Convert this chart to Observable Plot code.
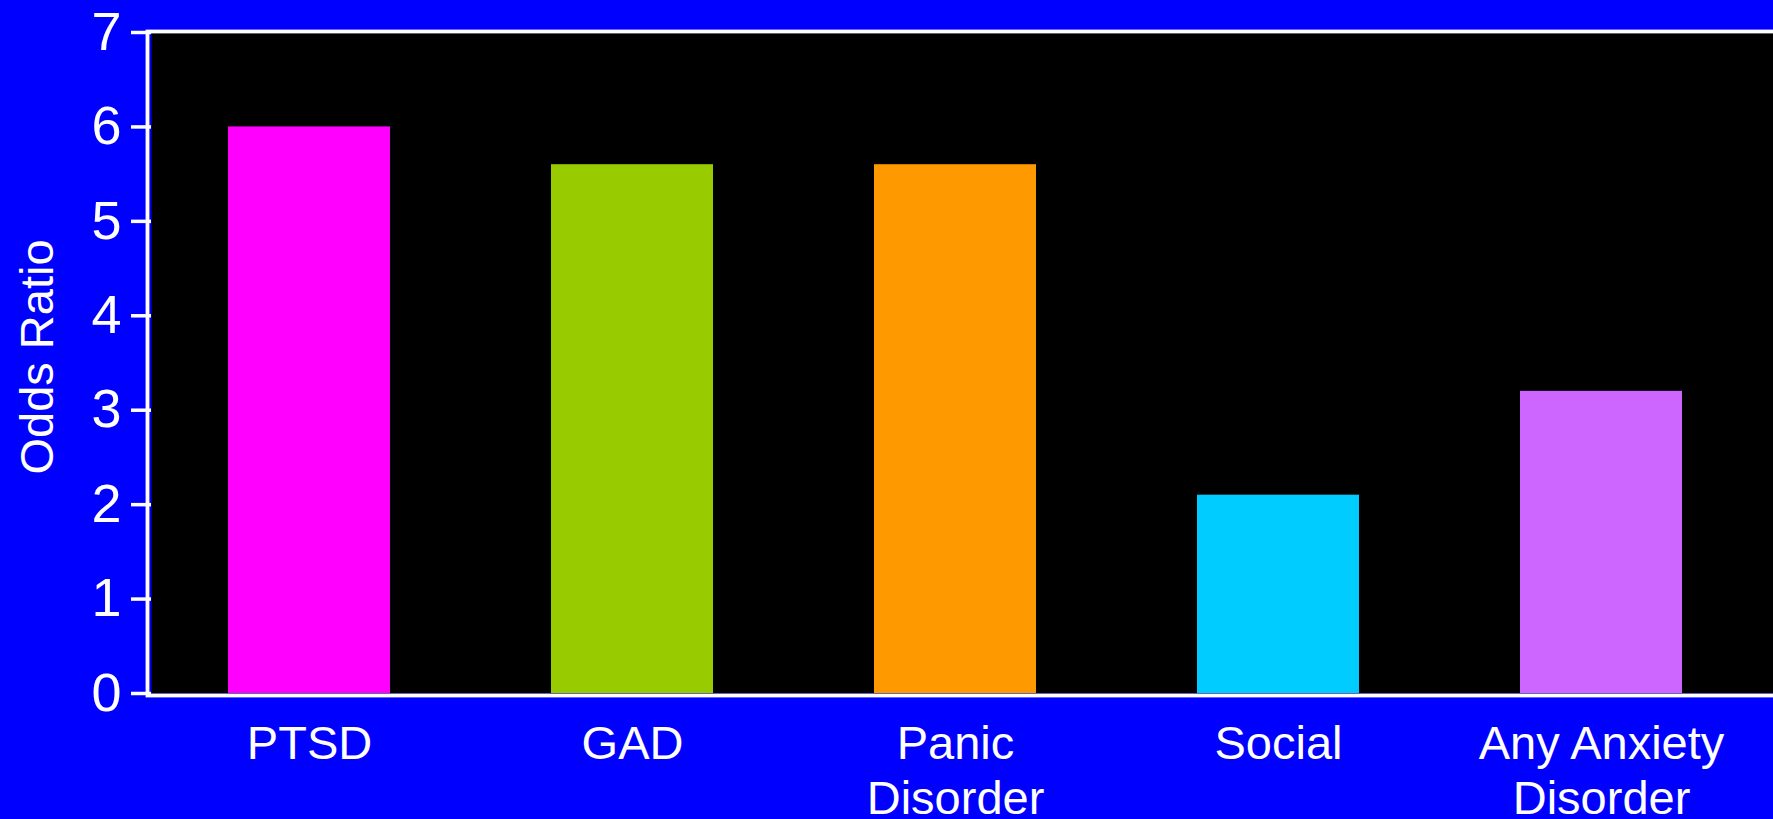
<!DOCTYPE html>
<html>
<head>
<meta charset="utf-8">
<script src="https://cdn.jsdelivr.net/npm/d3@7"></script>
<script src="https://cdn.jsdelivr.net/npm/@observablehq/plot@0.6"></script>
<style>
  html, body { margin: 0; padding: 0; background: #0000ff; }
  #chart svg { display: block; }
</style>
</head>
<body>
<div id="chart"></div>
<script>
// Odds ratios of anxiety disorders
const categories = ["PTSD", "GAD", "Panic\nDisorder", "Social", "Any Anxiety\nDisorder"];
const oddsRatios = [6.0, 5.6, 5.6, 2.1, 3.2];
const barColors = ["#ff00ff", "#99cc00", "#ff9900", "#00ccff", "#cc66ff"];
const yTicks = [0, 1, 2, 3, 4, 5, 6, 7];
const yLabel = "Odds Ratio";

const rows = categories.map((c, i) => ({category: c, value: oddsRatios[i]}));
const font = "'Liberation Sans', Arial, sans-serif";

const chart = Plot.plot({
  width: 1773,
  height: 819,
  marginLeft: 151,
  marginRight: 0,
  marginTop: 32,
  marginBottom: 126,
  style: {background: "#0000ff", color: "white", fontFamily: font},
  x: {domain: categories, range: [146, 1763], paddingInner: 0.5, paddingOuter: 0.25},
  y: {domain: [0, 7]},
  color: {domain: categories, range: barColors},
  marks: [
    // black plotting area
    Plot.frame({fill: "black", stroke: null}),
    Plot.barY(rows, {x: "category", y: "value", fill: "category"}),
    // white axis lines on left, top and bottom (right edge pushed off-canvas)
    Plot.frame({stroke: "white", strokeWidth: 3.8, insetLeft: -4, insetTop: -1, insetBottom: -2, insetRight: -6}),
    Plot.axisY({
      ticks: yTicks, tickSize: 20, tickPadding: 10, fontSize: 54,
      stroke: "white", strokeWidth: 3.5, fill: "white",
      label: null, tickFormat: d => String(d)
    }),
    Plot.axisX({
      tickSize: 0, tickPadding: 26, fontSize: 47, lineHeight: 1.17,
      fill: "white", label: null, tickFormat: d => d
    }),
    Plot.text([yLabel], {
      text: d => d, frameAnchor: "left", textAnchor: "middle", rotate: -90,
      dx: -114, dy: -6, fontSize: 47, fill: "white"
    })
  ]
});

document.getElementById("chart").appendChild(chart);
</script>
</body>
</html>
